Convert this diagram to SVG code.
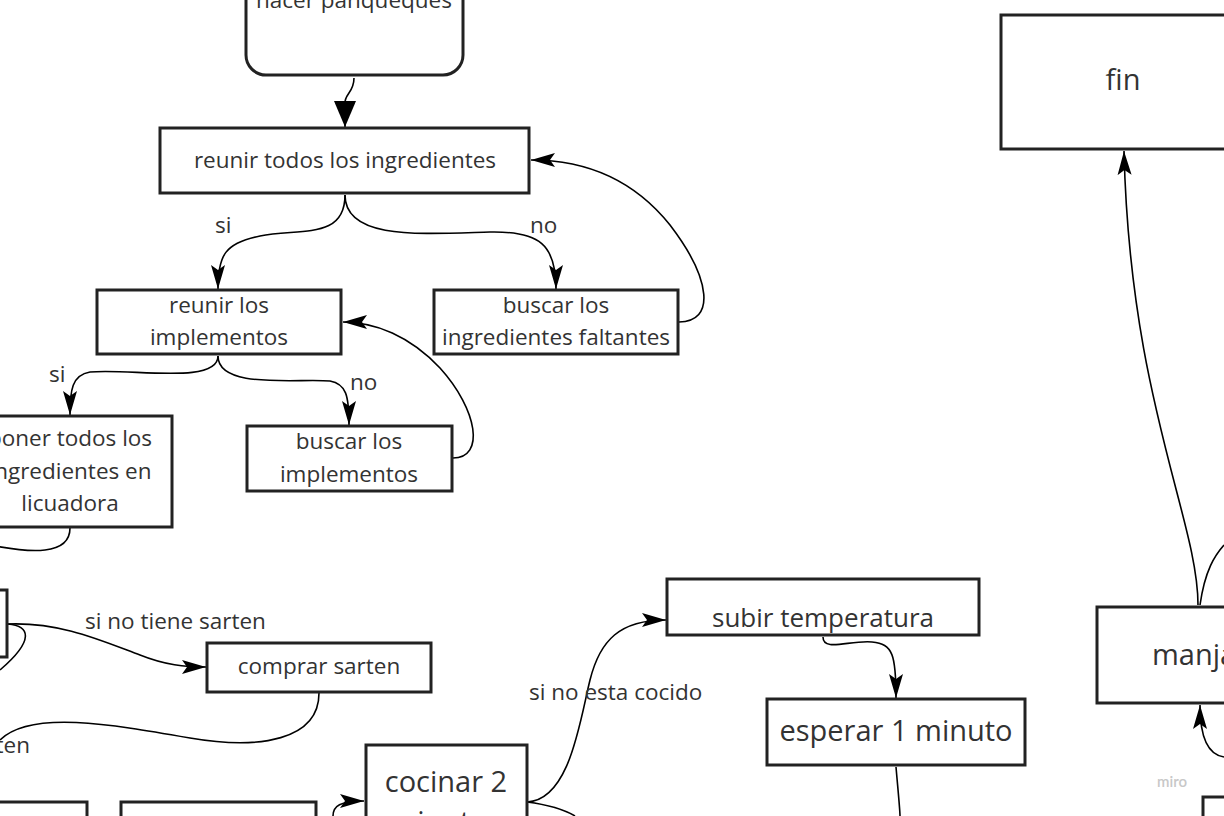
<svg xmlns="http://www.w3.org/2000/svg" width="1224" height="816" viewBox="0 0 1224 816">
<style>
.n{fill:#fff;stroke:#222;stroke-width:3}
.t{font-family:"Open Sans","Noto Sans",sans-serif;fill:#333;text-anchor:middle}
.s20{font-size:22.5px}
.s24{font-size:26px}
.s26{font-size:29px}
.lbl{font-family:"Open Sans","Noto Sans",sans-serif;fill:#333;font-size:22.5px}
.c{fill:none;stroke:#000;stroke-width:1.6}
</style>
<defs>
<marker id="a" markerUnits="userSpaceOnUse" markerWidth="26" markerHeight="16" refX="24" refY="8" orient="auto">
<path d="M0,1 L24,8 L0,15 L5,8 Z" fill="#000"/>
</marker>
<marker id="ab" markerUnits="userSpaceOnUse" markerWidth="28" markerHeight="24" refX="26" refY="12" orient="auto">
<path d="M0,1 L26,12 L0,23 Z" fill="#000"/>
</marker>
</defs>
<rect width="1224" height="816" fill="#fff"/>
<g id="connectors">
<path class="c" d="M354,78 C354,93 344,94 345,104 L345,127" marker-end="url(#ab)"/>
<path class="c" d="M345,195 C345,240 300,228 260,236 C225,243 218,255 218,289" marker-end="url(#a)"/>
<path class="c" d="M345,195 C345,240 420,234 490,232 C540,231 556,245 556,289" marker-end="url(#a)"/>
<path class="c" d="M679,322 C715,322 712,280 670,225 C630,175 580,160 531,160" marker-end="url(#a)"/>
<path class="c" d="M218,356 C218,385 130,368 90,372 C72,375 70,390 70,415" marker-end="url(#a)"/>
<path class="c" d="M218,356 C218,390 300,378 330,381 C346,384 349,395 349,425" marker-end="url(#a)"/>
<path class="c" d="M453,458 C485,458 478,410 440,368 C410,336 375,322 343,322" marker-end="url(#a)"/>
<path class="c" d="M70,528 C70,556 30,553 -10,545"/>
<path class="c" d="M8,624 C60,622 100,640 140,655 C165,665 185,667 206,667" marker-end="url(#a)"/>
<path class="c" d="M8,624 C30,626 35,640 0,670"/>
<path class="c" d="M319,693 C319,740 260,750 190,738 C110,724 30,710 0,740"/>
<path class="c" d="M333,816 C333,806 340,801 364,801" marker-end="url(#a)"/>
<path class="c" d="M527,802 C570,800 580,720 590,680 C600,640 620,620 666,620" marker-end="url(#a)"/>
<path class="c" d="M527,802 C550,805 565,810 575,816"/>
<path class="c" d="M823,637 C823,652 850,640 872,642 C893,644 896,655 896,698" marker-end="url(#a)"/>
<path class="c" d="M896,767 C898,790 900,810 900,816"/>
<path class="c" d="M1198,605 C1198,520 1130,400 1124,151" marker-end="url(#a)"/>
<path class="c" d="M1200,605 C1205,570 1215,555 1224,545"/>
<path class="c" d="M1224,757 C1210,755 1200,740 1200,705" marker-end="url(#a)"/>
<text class="lbl" x="215" y="233">si</text>
<text class="lbl" x="530" y="233">no</text>
<text class="lbl" x="49" y="382">si</text>
<text class="lbl" x="350" y="390">no</text>
<text class="lbl" x="85" y="629">si no tiene sarten</text>
<text class="lbl" x="30" y="753" text-anchor="end">sarten</text>
<text class="lbl" x="529" y="700">si no esta cocido</text>
</g>
<g id="hacer"><rect class="n" x="246" y="-60" width="217" height="135" rx="20"/><text class="t s20" x="354" y="8">hacer panqueques</text></g>
<g id="reunir-ingredientes"><rect class="n" x="160" y="128" width="369" height="65"/><text class="t s20" x="345" y="168">reunir todos los ingredientes</text></g>
<g id="reunir-implementos"><rect class="n" x="97" y="290" width="244" height="64"/><text class="t s20" x="219" y="313">reunir los</text><text class="t s20" x="219" y="345">implementos</text></g>
<g id="buscar-ingredientes"><rect class="n" x="434" y="290" width="244" height="64"/><text class="t s20" x="556" y="313">buscar los</text><text class="t s20" x="556" y="345">ingredientes faltantes</text></g>
<g id="poner"><rect class="n" x="-32" y="416" width="204" height="111"/><text class="t s20" x="70" y="446">poner todos los</text><text class="t s20" x="70" y="479">ingredientes en</text><text class="t s20" x="70" y="511">licuadora</text></g>
<g id="buscar-implementos"><rect class="n" x="247" y="426" width="205" height="65"/><text class="t s20" x="349" y="449">buscar los</text><text class="t s20" x="349" y="482">implementos</text></g>
<g id="partial-left"><rect class="n" x="-200" y="590" width="207" height="67"/></g>
<g id="comprar"><rect class="n" x="207" y="643" width="224" height="49"/><text class="t s20" x="319" y="674">comprar sarten</text></g>
<g id="cocinar"><rect class="n" x="366" y="745" width="161" height="120"/><text class="t s26" x="446" y="792">cocinar 2</text><text class="t s26" x="446" y="832">minutos</text></g>
<g id="bottom-a"><rect class="n" x="-100" y="802" width="187" height="60"/></g>
<g id="bottom-b"><rect class="n" x="121" y="802" width="195" height="60"/></g>
<g id="subir"><rect class="n" x="667" y="579" width="312" height="56"/><text class="t s24" x="823" y="627">subir temperatura</text></g>
<g id="esperar"><rect class="n" x="767" y="699" width="258" height="66"/><text class="t s26" x="896" y="741">esperar 1 minuto</text></g>
<g id="fin"><rect class="n" x="1001" y="15" width="260" height="134"/><text class="t s26" x="1123" y="90">fin</text></g>
<g id="manjar"><rect class="n" x="1097" y="607" width="200" height="96"/><text class="t s26" x="1152" y="665" style="text-anchor:start">manja</text></g>
<g id="bottom-right"><rect class="n" x="1203" y="797" width="100" height="60"/></g>
<text x="1157" y="787" font-family="Lato,'Open Sans',sans-serif" font-size="15" font-weight="600" fill="#c8c8c8">miro</text>
</svg>
